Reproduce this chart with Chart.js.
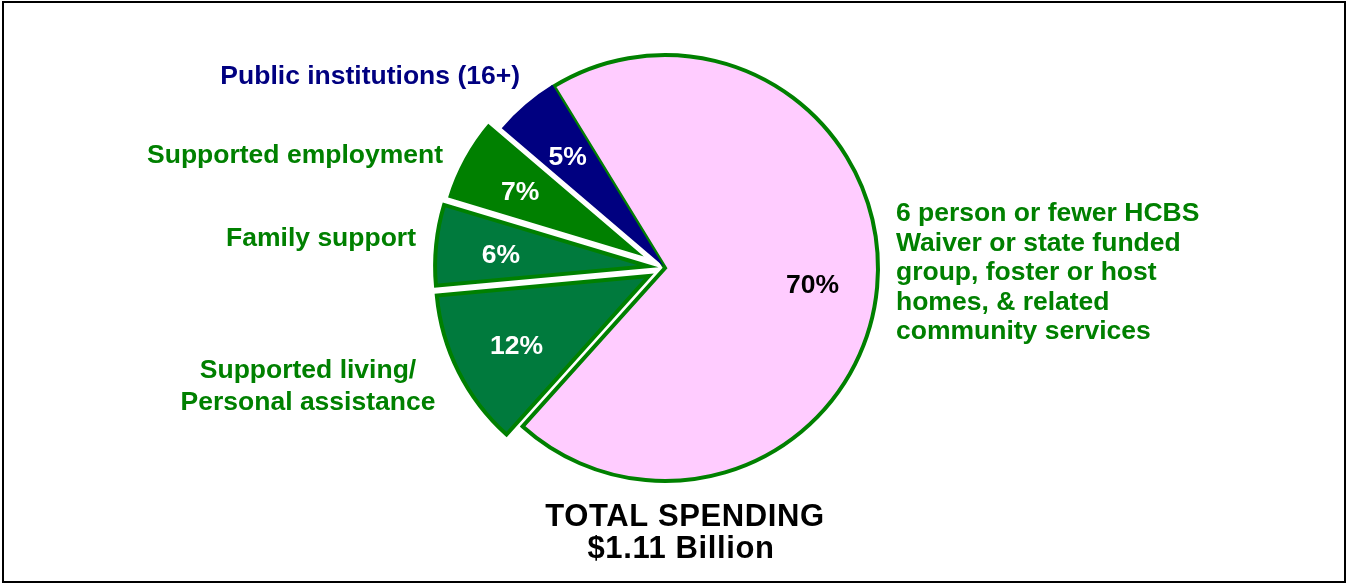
<!DOCTYPE html>
<html>
<head>
<meta charset="utf-8">
<script src="https://cdn.jsdelivr.net/npm/chart.js@4.4.1/dist/chart.umd.min.js"></script>
<style>
html,body{margin:0;padding:0;background:#fff;}
canvas{display:block;}
</style>
</head>
<body>
<canvas id="c" width="1348" height="585"></canvas>
<script>
// ---- data ----
const categories = [
  '6 person or fewer HCBS Waiver or state funded group, foster or host homes, & related community services',
  'Supported living/ Personal assistance',
  'Family support',
  'Supported employment',
  'Public institutions (16+)'
];
const categoryLines = [
  ['6 person or fewer HCBS', 'Waiver or state funded', 'group, foster or host', 'homes, & related', 'community services'],
  ['Supported living/', 'Personal assistance'],
  ['Family support'],
  ['Supported employment'],
  ['Public institutions (16+)']
];
const values = [70.4, 11.9, 6.1, 6.6, 5.0];
const percentLabels = ['70%', '12%', '6%', '7%', '5%'];
const titleLines = ['TOTAL SPENDING', '$1.11 Billion'];

// ---- styles ----
const fills = ['#FFCCFF', '#007A3D', '#007A3D', '#008000', '#000080'];
const borders = ['#008000', '#008000', '#008000', '#FFFFFF', '#000080'];
const borderWidths = [4, 4, 4, 3, 0];
const explode = [0, 18, 17, 17, 2];
const pctColors = ['#000000', '#FFFFFF', '#FFFFFF', '#FFFFFF', '#FFFFFF'];
const catColors = ['#008000', '#008000', '#008000', '#008000', '#000080'];
// outer label layout: [x, yCenterFirstLine, align, lineHeight]
const catLayout = [
  [896, 214, 'left', 29.5],
  [308, 371, 'center', 32],
  [416, 239, 'right', 0],
  [443, 156, 'right', 0],
  [520, 77, 'right', 0]
];
const FONT = '"Liberation Sans", Arial, Helvetica, sans-serif';

const framePlugin = {
  id: 'frame',
  beforeDraw(chart) {
    const ctx = chart.ctx;
    ctx.save();
    ctx.fillStyle = '#fff';
    ctx.fillRect(0, 0, chart.width, chart.height);
    ctx.restore();
  },
  afterDraw(chart) {
    const ctx = chart.ctx;
    ctx.save();
    ctx.strokeStyle = '#000';
    ctx.lineWidth = 2;
    ctx.strokeRect(3, 2, 1342, 580);
    ctx.restore();
  }
};

// pull slices out of the pie (exploded pie)
const explodePlugin = {
  id: 'explode',
  afterDatasetsUpdate(chart) {
    const meta = chart.getDatasetMeta(0);
    meta.data.forEach((arc, i) => {
      const mid = (arc.startAngle + arc.endAngle) / 2;
      arc.x += Math.cos(mid) * explode[i];
      arc.y += Math.sin(mid) * explode[i];
    });
  }
};

const labelPlugin = {
  id: 'sliceLabels',
  afterDatasetsDraw(chart) {
    const ctx = chart.ctx;
    const meta = chart.getDatasetMeta(0);
    ctx.save();
    ctx.font = 'bold 26.5px ' + FONT;
    ctx.textBaseline = 'middle';
    meta.data.forEach((arc, i) => {
      const p = arc.getProps(['x', 'y', 'startAngle', 'endAngle', 'outerRadius'], true);
      const mid = (p.startAngle + p.endAngle) / 2;
      const r = p.outerRadius * 0.695;
      ctx.fillStyle = pctColors[i];
      ctx.textAlign = 'center';
      ctx.fillText(percentLabels[i], p.x + Math.cos(mid) * r, p.y + Math.sin(mid) * r + 4);
      const [lx, ly, align, lh] = catLayout[i];
      ctx.fillStyle = catColors[i];
      ctx.textAlign = align;
      categoryLines[i].forEach((line, k) => ctx.fillText(line, lx, ly + k * lh));
    });
    ctx.fillStyle = '#000';
    ctx.textAlign = 'center';
    ctx.font = 'bold 31px ' + FONT;
    try { ctx.letterSpacing = '0.6px'; } catch (e) {}
    ctx.fillText(titleLines[0], 685, 517);
    ctx.fillText(titleLines[1], 681, 549);
    ctx.restore();
  }
};

new Chart(document.getElementById('c'), {
  type: 'pie',
  data: {
    labels: categories,
    datasets: [{
      data: values,
      backgroundColor: fills,
      borderColor: borders,
      borderWidth: borderWidths,
      borderJoinStyle: 'miter'
    }]
  },
  options: {
    responsive: false,
    animation: false,
    devicePixelRatio: 1,
    rotation: -31.5,
    radius: 213,
    layout: { padding: { left: 0, right: 18, top: 0, bottom: 49 } },
    plugins: {
      legend: { display: false },
      tooltip: { enabled: false },
      title: { display: false }
    }
  },
  plugins: [framePlugin, explodePlugin, labelPlugin]
});
</script>
</body>
</html>
